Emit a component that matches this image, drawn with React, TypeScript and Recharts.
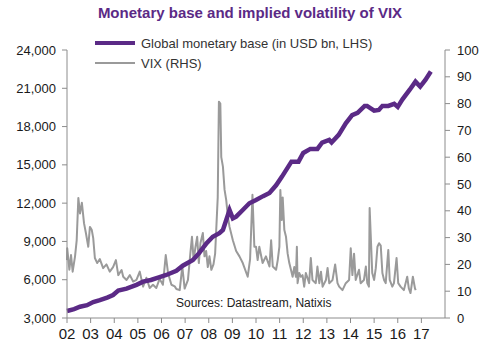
import { LineChart, Line, XAxis, YAxis } from 'recharts';

const FONT = '"Liberation Sans", Arial, sans-serif';
const PURPLE = '#5b2a86';
const GREY = '#9a9a9a';

// Global monetary base (USD bn), decimal years
const baseYears = [
  2002.0, 2002.3, 2002.55, 2002.85, 2003.11, 2003.39, 2003.7, 2003.95, 2004.17, 2004.52,
  2004.94, 2005.22, 2005.55, 2005.92, 2006.2, 2006.63, 2006.9, 2007.33, 2007.6, 2007.9,
  2008.17, 2008.45, 2008.6, 2008.74, 2008.88, 2009.02, 2009.16, 2009.44, 2009.72, 2010.0,
  2010.3, 2010.57, 2010.85, 2011.1, 2011.5, 2011.8, 2012.0, 2012.3, 2012.6, 2012.8,
  2013.1, 2013.2, 2013.5, 2013.8, 2014.07, 2014.3, 2014.6, 2014.7, 2015.0, 2015.2,
  2015.35, 2015.6, 2015.85, 2016.0, 2016.2, 2016.5, 2016.75, 2016.95, 2017.17, 2017.4,
];
const baseValues = [
  3550, 3700, 3880, 4000, 4250, 4400, 4600, 4800, 5150, 5300,
  5600, 5850, 5980, 6200, 6370, 6700, 7100, 7540, 8100, 8850,
  9370, 9650, 9900, 10680, 11460, 10810, 10940, 11460, 11990, 12250,
  12550, 12800, 13400, 14080, 15250, 15250, 15930, 16250, 16250, 16750,
  16950, 16750, 17350, 18260, 18900, 19070, 19620, 19620, 19250, 19300,
  19620, 19620, 19780, 19540, 20130, 20870, 21520, 21130, 21660, 22310,
];

// VIX, decimal years
const vixYears = [
  2002.0, 2002.01, 2002.1, 2002.17, 2002.24, 2002.34, 2002.41, 2002.48, 2002.55, 2002.63,
  2002.72, 2002.8, 2002.9, 2002.97, 2003.05, 2003.11, 2003.18, 2003.28, 2003.39, 2003.53,
  2003.67, 2003.81, 2003.95, 2004.07, 2004.17, 2004.31, 2004.38, 2004.52, 2004.66, 2004.8,
  2004.94, 2005.08, 2005.22, 2005.36, 2005.5, 2005.64, 2005.78, 2005.92, 2006.06, 2006.18,
  2006.28, 2006.42, 2006.56, 2006.63, 2006.77, 2006.88, 2006.98, 2007.12, 2007.22, 2007.29,
  2007.36, 2007.44, 2007.51, 2007.58, 2007.65, 2007.75, 2007.82, 2007.89, 2007.96, 2008.03,
  2008.11, 2008.2, 2008.27, 2008.38, 2008.43, 2008.49, 2008.53, 2008.6, 2008.67, 2008.74,
  2008.81, 2008.88, 2009.02, 2009.16, 2009.3, 2009.44, 2009.65, 2009.75, 2009.85, 2009.93,
  2010.0, 2010.07, 2010.14, 2010.28, 2010.42, 2010.57, 2010.64, 2010.71, 2010.85, 2010.92,
  2010.99, 2011.03, 2011.09, 2011.13, 2011.2, 2011.27, 2011.34, 2011.41, 2011.48, 2011.55,
  2011.62, 2011.69, 2011.73, 2011.76, 2011.83, 2011.9, 2011.97, 2012.04, 2012.11, 2012.25,
  2012.32, 2012.39, 2012.53, 2012.6, 2012.68, 2012.75, 2012.82, 2012.96, 2013.03, 2013.1,
  2013.24, 2013.35, 2013.45, 2013.52, 2013.66, 2013.8, 2013.94, 2014.01, 2014.08, 2014.15,
  2014.22, 2014.36, 2014.43, 2014.57, 2014.65, 2014.71, 2014.78, 2014.81, 2014.87, 2014.92,
  2015.0, 2015.07, 2015.14, 2015.21, 2015.28, 2015.35, 2015.42, 2015.49, 2015.6, 2015.66,
  2015.77, 2015.84, 2015.95, 2016.02, 2016.12, 2016.26, 2016.4, 2016.47, 2016.54, 2016.64,
  2016.73, 2016.76,
];
const vixValues = [
  21.6, 26, 18, 23.5, 17.3, 23, 29, 44.8, 39, 43,
  35.4, 31.7, 26.6, 34, 32.8, 29.8, 22.4, 20.5, 22, 18.6,
  20, 17.3, 19, 21.6, 16, 17.9, 15.4, 14.2, 16, 13.6,
  14.2, 17.3, 11.7, 15, 11.2, 12.4, 11.2, 14.6, 12.4, 23.5,
  16.6, 12.4, 11.8, 10.8, 10.4, 19.2, 11, 14.2, 24, 30.3,
  21.6, 26.6, 30.3, 20.5, 28, 31.7, 23, 25, 19, 23,
  18, 20, 24, 45, 80.7, 80, 60, 56.5, 47.8, 44,
  37.8, 34, 29, 25, 23, 20.5, 15.4, 22, 46, 26.6,
  26.6, 21.6, 26.6, 20.5, 23, 19.2, 29, 19.2, 18, 21.6,
  26.6, 47.8, 36.6, 45, 32.8, 30.3, 24, 20.5, 18, 15.4,
  19, 15.4, 26.6, 13, 16.8, 15.4, 16, 11.7, 16.8, 13,
  22.4, 14.2, 13, 19.2, 13, 17.3, 11.7, 14.2, 18.7, 13,
  14.2, 20, 13, 11.7, 10.4, 13, 14.2, 26, 16, 24,
  14.2, 18, 13, 14.2, 19.2, 13, 11.7, 41, 28, 16.8,
  14.2, 18.6, 26.6, 27.9, 27, 16.8, 14.2, 13, 25.4, 14.2,
  11.7, 13, 22.4, 13, 11.7, 10.4, 15.4, 11, 9.3, 15.4,
  11, 10.4,
];

const leftTicks = [3000, 6000, 9000, 12000, 15000, 18000, 21000, 24000];
const rightTicks = [0, 10, 20, 30, 40, 50, 60, 70, 80, 90, 100];
const yearTicks = [2002, 2003, 2004, 2005, 2006, 2007, 2008, 2009, 2010, 2011, 2012, 2013, 2014, 2015, 2016, 2017];

const baseData = baseYears.map((year, i) => ({ year, base: baseValues[i] }));
const vixData = vixYears.map((year, i) => ({ year, vix: vixValues[i] }));

const tickStyle = { fontSize: 13, fill: '#1a1a1a', fontFamily: FONT };
const axisStroke = '#8c8c8c';

function LegendBox() {
  return (
    <div style={{ position: 'absolute', left: 95, top: 33, fontFamily: FONT, fontSize: 13, color: '#333' }}>
      <div style={{ display: 'flex', alignItems: 'center', height: 20 }}>
        <svg width={46} height={8}>
          <line x1={0} y1={4} x2={40} y2={4} stroke={PURPLE} strokeWidth={4} />
        </svg>
        <span>Global monetary base (in USD bn, LHS)</span>
      </div>
      <div style={{ display: 'flex', alignItems: 'center', height: 20 }}>
        <svg width={46} height={8}>
          <line x1={0} y1={4} x2={40} y2={4} stroke={GREY} strokeWidth={2} />
        </svg>
        <span>VIX (RHS)</span>
      </div>
    </div>
  );
}

export default function App() {
  return (
    <div style={{ position: 'absolute', left: 0, top: 0, width: 500, height: 355, background: '#fff' }}>
      <div
        style={{
          position: 'absolute',
          top: 4,
          width: 500,
          textAlign: 'center',
          fontFamily: FONT,
          fontWeight: 'bold',
          fontSize: 15,
          color: PURPLE,
        }}
      >
        Monetary base and implied volatility of VIX
      </div>
      <LineChart width={500} height={355} margin={{ top: 50, right: 10, bottom: 7, left: 7 }}>
        <XAxis
          dataKey="year"
          type="number"
          domain={[2002, 2018]}
          ticks={yearTicks}
          tickFormatter={(v) => String(v % 100).padStart(2, '0')}
          stroke={axisStroke}
          tickSize={5}
          tickMargin={5}
          height={30}
          tick={{ ...tickStyle, fontSize: 15 }}
          allowDuplicatedCategory={false}
        />
        <YAxis
          yAxisId="left"
          domain={[3000, 24000]}
          ticks={leftTicks}
          tickFormatter={(v) => v.toLocaleString('en-US')}
          stroke={axisStroke}
          tickSize={5}
          tickMargin={6}
          width={60}
          tick={tickStyle}
          allowDataOverflow
        />
        <YAxis
          yAxisId="right"
          orientation="right"
          domain={[0, 100]}
          ticks={rightTicks}
          stroke={axisStroke}
          tickSize={5}
          tickMargin={7}
          width={45}
          tick={tickStyle}
          allowDataOverflow
        />
        <Line
          yAxisId="right"
          data={vixData}
          dataKey="vix"
          stroke={GREY}
          strokeWidth={2}
          strokeLinejoin="round"
          dot={false}
          isAnimationActive={false}
        />
        <Line
          yAxisId="left"
          data={baseData}
          dataKey="base"
          stroke={PURPLE}
          strokeWidth={4.5}
          dot={false}
          isAnimationActive={false}
        />
      </LineChart>
      <LegendBox />
      <div
        style={{
          position: 'absolute',
          left: 176,
          top: 296,
          fontFamily: FONT,
          fontSize: 12,
          color: '#222',
        }}
      >
        Sources: Datastream, Natixis
      </div>
    </div>
  );
}
